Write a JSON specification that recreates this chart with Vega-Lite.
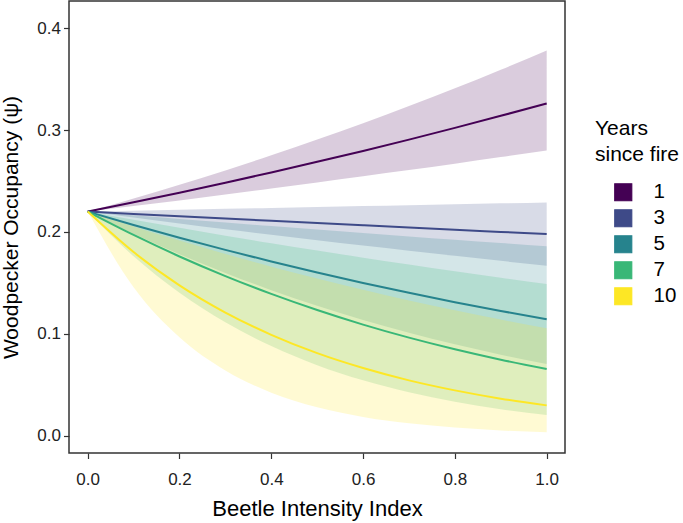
{
  "$schema": "https://vega.github.io/schema/vega-lite/v6.json",
  "width": 496,
  "height": 452,
  "autosize": {"type": "none"},
  "padding": {"left": 69, "top": 1, "right": 118, "bottom": 70},
  "background": "white",
  "config": {
    "font": "Liberation Sans",
    "view": {"stroke": "#333333", "strokeWidth": 1.5},
    "axis": {"grid": false, "domain": false, "tickColor": "#333333", "tickSize": 5.5, "tickWidth": 1.2, "labelColor": "#222222", "labelFontSize": 17, "labelFont": "Liberation Sans", "titleFont": "Liberation Sans", "titleFontSize": 22, "titleFontWeight": "normal", "titleColor": "#000000", "labelPadding": 3}
  },
  "data": {"values": [
    {"years": 1, "x": 0.0, "psi": 0.22, "lo": 0.22, "hi": 0.22},
    {"years": 1, "x": 0.1, "psi": 0.2291, "lo": 0.2255, "hi": 0.2329},
    {"years": 1, "x": 0.2, "psi": 0.2385, "lo": 0.2310, "hi": 0.2463},
    {"years": 1, "x": 0.3, "psi": 0.2483, "lo": 0.2367, "hi": 0.2604},
    {"years": 1, "x": 0.4, "psi": 0.2584, "lo": 0.2426, "hi": 0.2752},
    {"years": 1, "x": 0.5, "psi": 0.2688, "lo": 0.2485, "hi": 0.2906},
    {"years": 1, "x": 0.6, "psi": 0.2795, "lo": 0.2546, "hi": 0.3067},
    {"years": 1, "x": 0.7, "psi": 0.2906, "lo": 0.2607, "hi": 0.3235},
    {"years": 1, "x": 0.8, "psi": 0.3021, "lo": 0.2670, "hi": 0.3409},
    {"years": 1, "x": 0.9, "psi": 0.3139, "lo": 0.2735, "hi": 0.3591},
    {"years": 1, "x": 1.0, "psi": 0.326, "lo": 0.280, "hi": 0.378},
    {"years": 3, "x": 0.0, "psi": 0.22, "lo": 0.22, "hi": 0.22},
    {"years": 3, "x": 0.1, "psi": 0.2177, "lo": 0.2141, "hi": 0.2209},
    {"years": 3, "x": 0.2, "psi": 0.2154, "lo": 0.2084, "hi": 0.2218},
    {"years": 3, "x": 0.3, "psi": 0.2132, "lo": 0.2027, "hi": 0.2227},
    {"years": 3, "x": 0.4, "psi": 0.2110, "lo": 0.1973, "hi": 0.2236},
    {"years": 3, "x": 0.5, "psi": 0.2088, "lo": 0.1919, "hi": 0.2245},
    {"years": 3, "x": 0.6, "psi": 0.2066, "lo": 0.1867, "hi": 0.2254},
    {"years": 3, "x": 0.7, "psi": 0.2044, "lo": 0.1816, "hi": 0.2263},
    {"years": 3, "x": 0.8, "psi": 0.2022, "lo": 0.1766, "hi": 0.2272},
    {"years": 3, "x": 0.9, "psi": 0.2001, "lo": 0.1717, "hi": 0.2281},
    {"years": 3, "x": 1.0, "psi": 0.198, "lo": 0.167, "hi": 0.229},
    {"years": 5, "x": 0.0, "psi": 0.22, "lo": 0.22, "hi": 0.22},
    {"years": 5, "x": 0.1, "psi": 0.2069, "lo": 0.1983, "hi": 0.2164},
    {"years": 5, "x": 0.2, "psi": 0.1944, "lo": 0.1783, "hi": 0.2128},
    {"years": 5, "x": 0.3, "psi": 0.1825, "lo": 0.1599, "hi": 0.2093},
    {"years": 5, "x": 0.4, "psi": 0.1711, "lo": 0.1430, "hi": 0.2058},
    {"years": 5, "x": 0.5, "psi": 0.1603, "lo": 0.1277, "hi": 0.2024},
    {"years": 5, "x": 0.6, "psi": 0.1500, "lo": 0.1138, "hi": 0.1990},
    {"years": 5, "x": 0.7, "psi": 0.1404, "lo": 0.1012, "hi": 0.1957},
    {"years": 5, "x": 0.8, "psi": 0.1312, "lo": 0.0899, "hi": 0.1924},
    {"years": 5, "x": 0.9, "psi": 0.1226, "lo": 0.0797, "hi": 0.1892},
    {"years": 5, "x": 1.0, "psi": 0.1144, "lo": 0.0706, "hi": 0.186},
    {"years": 7, "x": 0.0, "psi": 0.22, "lo": 0.22, "hi": 0.22},
    {"years": 7, "x": 0.1, "psi": 0.1971, "lo": 0.1761, "hi": 0.2119},
    {"years": 7, "x": 0.2, "psi": 0.1760, "lo": 0.1404, "hi": 0.2041},
    {"years": 7, "x": 0.3, "psi": 0.1568, "lo": 0.1114, "hi": 0.1964},
    {"years": 7, "x": 0.4, "psi": 0.1393, "lo": 0.0881, "hi": 0.1890},
    {"years": 7, "x": 0.5, "psi": 0.1235, "lo": 0.0694, "hi": 0.1818},
    {"years": 7, "x": 0.6, "psi": 0.1092, "lo": 0.0546, "hi": 0.1748},
    {"years": 7, "x": 0.7, "psi": 0.0964, "lo": 0.0429, "hi": 0.1681},
    {"years": 7, "x": 0.8, "psi": 0.0850, "lo": 0.0336, "hi": 0.1615},
    {"years": 7, "x": 0.9, "psi": 0.0748, "lo": 0.0263, "hi": 0.1551},
    {"years": 7, "x": 1.0, "psi": 0.0657, "lo": 0.0206, "hi": 0.149},
    {"years": 10, "x": 0.0, "psi": 0.22, "lo": 0.22, "hi": 0.22},
    {"years": 10, "x": 0.1, "psi": 0.1803, "lo": 0.1458, "hi": 0.2054},
    {"years": 10, "x": 0.2, "psi": 0.1477, "lo": 0.0967, "hi": 0.1916},
    {"years": 10, "x": 0.3, "psi": 0.1210, "lo": 0.0641, "hi": 0.1784},
    {"years": 10, "x": 0.4, "psi": 0.0992, "lo": 0.0425, "hi": 0.1660},
    {"years": 10, "x": 0.5, "psi": 0.0812, "lo": 0.0281, "hi": 0.1543},
    {"years": 10, "x": 0.6, "psi": 0.0666, "lo": 0.0187, "hi": 0.1433},
    {"years": 10, "x": 0.7, "psi": 0.0545, "lo": 0.0124, "hi": 0.1329},
    {"years": 10, "x": 0.8, "psi": 0.0447, "lo": 0.0082, "hi": 0.1232},
    {"years": 10, "x": 0.9, "psi": 0.0366, "lo": 0.0054, "hi": 0.1141},
    {"years": 10, "x": 1.0, "psi": 0.030, "lo": 0.0036, "hi": 0.1056}
  ]},
  "encoding": {
    "x": {"field": "x", "type": "quantitative",
      "scale": {"domain": [-0.0407, 1.0399], "nice": false, "zero": false},
      "axis": {"values": [0, 0.2, 0.4, 0.6, 0.8, 1.0], "format": ".1f", "title": "Beetle Intensity Index", "labelPadding": 13, "titlePadding": 11}},
    "color": {"field": "years", "type": "nominal",
      "scale": {"domain": [1, 3, 5, 7, 10], "range": ["#440154", "#3E4A88", "#26838D", "#39B777", "#FDE725"]},
      "legend": {
        "orient": "none", "legendX": 526, "legendY": 117,
        "title": ["Years", "since fire"], "titleFontSize": 21, "titleFontWeight": "normal", "titleColor": "#000000", "titleLineHeight": 26, "titlePadding": 17,
        "labelFontSize": 20.5, "labelColor": "#000000", "labelOffset": 20,
        "symbolType": "square", "symbolSize": 289, "symbolOffset": 18, "rowPadding": 3,
        "encode": {"symbols": {"update": {"fill": {"scale": "color", "field": "value"}, "fillOpacity": {"value": 1}, "opacity": {"value": 1}, "stroke": {"value": "#111111"}, "strokeWidth": {"value": 1.2}}}}
      }}
  },
  "layer": [
    {
      "mark": {"type": "area", "opacity": 0.2, "interpolate": "monotone"},
      "encoding": {
        "y": {"field": "lo", "type": "quantitative",
          "scale": {"domain": [-0.0167, 0.4265], "nice": false, "zero": false},
          "axis": {"values": [0, 0.1, 0.2, 0.3, 0.4], "format": ".1f", "title": "Woodpecker Occupancy (ψ)", "titleFontSize": 21, "titlePadding": 15}},
        "y2": {"field": "hi"}
      }
    },
    {
      "mark": {"type": "line", "strokeWidth": 2, "interpolate": "monotone"},
      "encoding": {
        "y": {"field": "psi", "type": "quantitative"}
      }
    }
  ]
}
